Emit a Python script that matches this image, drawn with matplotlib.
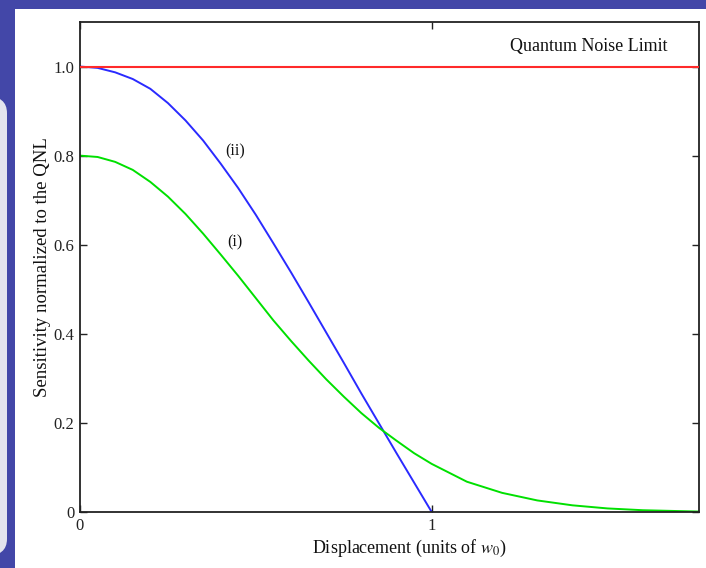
import matplotlib
matplotlib.use("Agg")
import matplotlib.pyplot as plt
from matplotlib.patches import Rectangle, FancyBboxPatch

plt.rcParams['font.family'] = ['Liberation Serif', 'DejaVu Serif']
plt.rcParams['mathtext.fontset'] = 'stix'

# Data
qnl_level = 1.0
x_ii = [0.0, 0.05, 0.1, 0.15, 0.2, 0.25, 0.3, 0.35, 0.4, 0.45, 0.5,
        0.55, 0.6, 0.65, 0.7, 0.75, 0.8, 0.85, 0.9, 0.95, 1.0]
y_ii = [1.0, 0.997, 0.987, 0.972, 0.950, 0.918, 0.879, 0.834, 0.782, 0.727, 0.667,
        0.603, 0.538, 0.471, 0.403, 0.335, 0.266, 0.199, 0.132, 0.066, 0.0]

x_i = [0.0, 0.05, 0.1, 0.15, 0.2, 0.25, 0.3, 0.35, 0.4, 0.45, 0.5,
       0.55, 0.6, 0.65, 0.7, 0.75, 0.8, 0.85, 0.9, 0.95, 1.0,
       1.1, 1.2, 1.3, 1.4, 1.5, 1.6, 1.76]
y_i = [0.8, 0.797, 0.786, 0.768, 0.741, 0.708, 0.669, 0.625, 0.578, 0.53, 0.48,
       0.43, 0.384, 0.34, 0.298, 0.259, 0.222, 0.189, 0.16, 0.132, 0.108,
       0.068, 0.043, 0.026, 0.015, 0.008, 0.004, 0.001]

yticks = [0, 0.2, 0.4, 0.6, 0.8, 1.0]
ytick_labels = ["0", "0.2", "0.4", "0.6", "0.8", "1.0"]
xticks = [0, 1]
xtick_labels = ["0", "1"]

W, H = 706, 568
fig = plt.figure(figsize=(W / 100, H / 100), dpi=100)
fig.patch.set_facecolor('#4347a8')

# white slide panel
fig.patches.append(Rectangle((15 / W, 0), 1 - 15 / W, 1 - 9 / H,
                             transform=fig.transFigure, facecolor='white',
                             edgecolor='none', zorder=-5))
# light rounded shape on left edge
fig.patches.append(FancyBboxPatch((-40 / W, 12 / H), 47 / W, 460 / H,
                                  boxstyle="round,pad=0,rounding_size=0.03",
                                  transform=fig.transFigure, facecolor='#e4e4ee',
                                  edgecolor='none', zorder=-5))

ax = fig.add_axes([80 / W, 56 / H, 619 / W, 490 / H])
ax.set_zorder(2)
ax.set_facecolor('white')

ax.axhline(qnl_level, color='#ff2a2a', lw=1.5, zorder=3)
ax.plot(x_ii, y_ii, color='#2a2aff', lw=1.4)
ax.plot(x_i, y_i, color='#00e000', lw=1.4)

ax.set_xlim(0, 1.76)
ax.set_ylim(0, 1.1)
ax.set_xticks(xticks)
ax.set_xticklabels(xtick_labels)
ax.set_yticks(yticks)
ax.set_yticklabels(ytick_labels)
ax.tick_params(direction='in', top=True, right=True, length=5, width=1,
               labelsize=12, colors='#222222', pad=4)
for s in ax.spines.values():
    s.set_linewidth(1.3)
    s.set_color('#222222')

ax.text(1.67, 1.045, "Quantum Noise Limit", fontsize=13, ha='right', va='center',
        color='#111111')
ax.text(0.44, 0.81, "(ii)", fontsize=11.5, ha='center', va='center', color='#111111')
ax.text(0.44, 0.605, "(i)", fontsize=11.5, ha='center', va='center', color='#111111')

ax.set_xlabel(r"Displacement (units of $w_0$)", fontsize=13, color='#111111')
ax.xaxis.set_label_coords(0.532, -0.052)
ax.set_ylabel("Sensitivity normalized to the QNL", fontsize=13.5, color='#111111', labelpad=2)

fig.savefig("out.png", dpi=100, facecolor=fig.get_facecolor())
